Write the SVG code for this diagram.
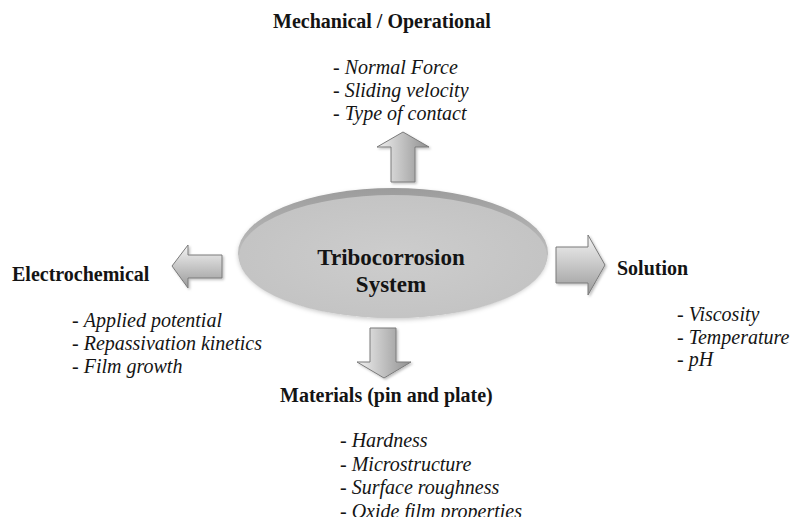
<svg xmlns="http://www.w3.org/2000/svg" width="794" height="517" viewBox="0 0 794 517">
  <defs>
    <style>
      text { font-family: "Liberation Serif", "Times New Roman", serif; fill: #141414; }
      .head { font-size: 20px; font-weight: bold; }
      .item { font-size: 20px; }
      .item tspan.i { font-style: italic; }
      .core { font-size: 23px; font-weight: bold; text-anchor: middle; }
      .arrow { stroke: #7a7a7a; stroke-width: 1; filter: url(#sh); }
    </style>
    <linearGradient id="gv" x1="0" y1="0" x2="0" y2="1">
      <stop offset="0" stop-color="#f4f4f4"/>
      <stop offset="1" stop-color="#9a9a9a"/>
    </linearGradient>
    <linearGradient id="gh" x1="0" y1="0" x2="1" y2="0">
      <stop offset="0" stop-color="#f0f0f0"/>
      <stop offset="1" stop-color="#8f8f8f"/>
    </linearGradient>
    <linearGradient id="rim" x1="0" y1="0" x2="0" y2="1">
      <stop offset="0" stop-color="#9c9c9c"/>
      <stop offset="0.5" stop-color="#bcbcbc"/>
      <stop offset="1" stop-color="#c4c4c4"/>
    </linearGradient>
    <radialGradient id="disc" cx="0.5" cy="0.5" r="0.6">
      <stop offset="0" stop-color="#cdcdcd"/>
      <stop offset="1" stop-color="#c2c2c2"/>
    </radialGradient>
    <filter id="sh" x="-20%" y="-20%" width="150%" height="150%">
      <feDropShadow dx="1.5" dy="1.5" stdDeviation="1" flood-color="#000" flood-opacity="0.25"/>
    </filter>
    <filter id="dsh" x="-10%" y="-10%" width="120%" height="130%">
      <feDropShadow dx="0" dy="2" stdDeviation="2" flood-color="#000" flood-opacity="0.2"/>
    </filter>
  </defs>

  <g id="center-node">
    <ellipse cx="393" cy="253" rx="155" ry="65" fill="url(#rim)" filter="url(#dsh)"/>
    <ellipse cx="393" cy="256.5" rx="154" ry="61.5" fill="url(#disc)"/>
    <text class="core" x="391" y="265">Tribocorrosion</text>
    <text class="core" x="391" y="292">System</text>
  </g>

  <g id="connectors">
    <polygon class="arrow" fill="url(#gh)" points="403,132 429,147 415,147 415,182 391,182 391,147 377,147"/>
    <polygon class="arrow" fill="url(#gh)" points="370,328 396,328 396,362 411,362 384,378 357,362 370,362"/>
    <polygon class="arrow" fill="url(#gv)" points="556,247 588,247 588,235 605,265 588,295 588,283 556,283"/>
    <polygon class="arrow" fill="url(#gv)" points="222,255 188,255 188,245 172,266 188,288 188,278 222,278"/>
  </g>

  <g id="mechanical">
    <text class="head" x="273" y="28">Mechanical / Operational</text>
    <text class="item" x="333" y="74">- <tspan class="i">Normal Force</tspan></text>
    <text class="item" x="333" y="97">- <tspan class="i">Sliding velocity</tspan></text>
    <text class="item" x="333" y="120">- <tspan class="i">Type of contact</tspan></text>
  </g>

  <g id="electrochemical">
    <text class="head" x="12" y="281">Electrochemical</text>
    <text class="item" x="72" y="327">- <tspan class="i">Applied potential</tspan></text>
    <text class="item" x="72" y="350">- <tspan class="i">Repassivation kinetics</tspan></text>
    <text class="item" x="72" y="373">- <tspan class="i">Film growth</tspan></text>
  </g>

  <g id="solution">
    <text class="head" x="617" y="275">Solution</text>
    <text class="item" x="677" y="321">- <tspan class="i">Viscosity</tspan></text>
    <text class="item" x="677" y="344">- <tspan class="i">Temperature</tspan></text>
    <text class="item" x="677" y="366">- <tspan class="i">pH</tspan></text>
  </g>

  <g id="materials">
    <text class="head" x="280" y="402">Materials (pin and plate)</text>
    <text class="item" x="340" y="447">- <tspan class="i">Hardness</tspan></text>
    <text class="item" x="340" y="470.5">- <tspan class="i">Microstructure</tspan></text>
    <text class="item" x="340" y="494">- <tspan class="i">Surface roughness</tspan></text>
    <text class="item" x="340" y="517.5">- <tspan class="i">Oxide film properties</tspan></text>
  </g>
</svg>
